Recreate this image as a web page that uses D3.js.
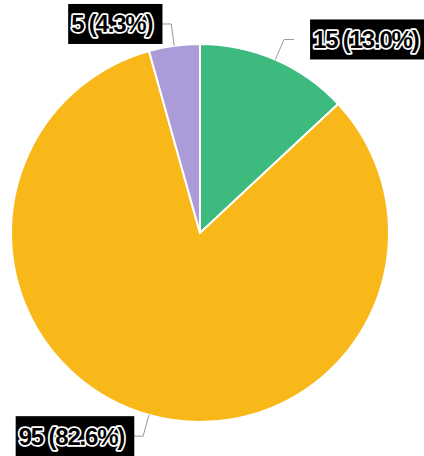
<!DOCTYPE html>
<html>
<head>
<meta charset="utf-8">
<script src="https://cdn.jsdelivr.net/npm/d3@7"></script>
<style>
  body { margin: 0; background: #fff; }
</style>
</head>
<body>
<div id="chart"></div>
<script>
// data
const categories = ["A", "B", "C"];
const values = [15, 95, 5];
const colors = ["#3dba7e", "#f8b81a", "#ab9cd9"];

const width = 424;
const height = 456;
const cx = 200;
const cy = 233;
const radius = 189;

const total = d3.sum(values);
const data = categories.map((c, i) => ({ category: c, value: values[i], color: colors[i] }));

const svg = d3.select("#chart")
  .append("svg")
  .attr("width", width)
  .attr("height", height);

const g = svg.append("g").attr("transform", `translate(${cx}, ${cy})`);

const pie = d3.pie().value((d) => d.value).sort(null);
const arcs = pie(data);

const arc = d3.arc().innerRadius(0).outerRadius(radius);

// slices
g.selectAll("path.slice")
  .data(arcs)
  .join("path")
  .attr("class", "slice")
  .attr("d", arc)
  .attr("fill", (d) => d.data.color)
  .attr("stroke", "#fff")
  .attr("stroke-width", 2);

// leader lines
const lineLen = 22;
const hLen = 10;
function points(d) {
  const a = (d.startAngle + d.endAngle) / 2;
  const p1 = [Math.sin(a) * radius, -Math.cos(a) * radius];
  const p2 = [Math.sin(a) * (radius + lineLen), -Math.cos(a) * (radius + lineLen)];
  const side = Math.sin(a) >= 0 ? 1 : -1;
  const p3 = [p2[0] + side * hLen, p2[1]];
  return { p1, p2, p3, side };
}

g.selectAll("polyline")
  .data(arcs)
  .join("polyline")
  .attr("points", (d) => {
    const p = points(d);
    return [p.p1, p.p2, p.p3].map((q) => q.join(",")).join(" ");
  })
  .attr("fill", "none")
  .attr("stroke", "#999")
  .attr("stroke-width", 1);

// labels
const labels = g.selectAll("g.label")
  .data(arcs)
  .join("g")
  .attr("class", "label");

labels.each(function (d) {
  const p = points(d);
  const lg = d3.select(this);
  const pct = (d.data.value / total * 100).toFixed(1);
  const x = p.p3[0] + (p.side > 0 ? 19 : -9);
  const y = p.p3[1];
  const rect = lg.append("rect").attr("fill", "#000");
  const t = lg.append("text")
    .attr("x", x)
    .attr("y", y)
    .attr("text-anchor", p.side > 0 ? "start" : "end")
    .attr("dominant-baseline", "central")
    .attr("font-family", "'Liberation Sans', Arial, sans-serif")
    .attr("font-weight", "bold")
    .attr("font-size", 24)
    .attr("letter-spacing", -1.2)
    .attr("fill", "#000")
    .attr("stroke", "#fff")
    .attr("stroke-width", 3.5)
    .attr("stroke-linejoin", "round")
    .attr("paint-order", "stroke")
    .text(`${d.data.value} (${pct}%)`);
  const b = t.node().getBBox();
  rect
    .attr("x", b.x - 3)
    .attr("y", y - 20)
    .attr("width", b.width + 13)
    .attr("height", 40);
});
</script>
</body>
</html>
